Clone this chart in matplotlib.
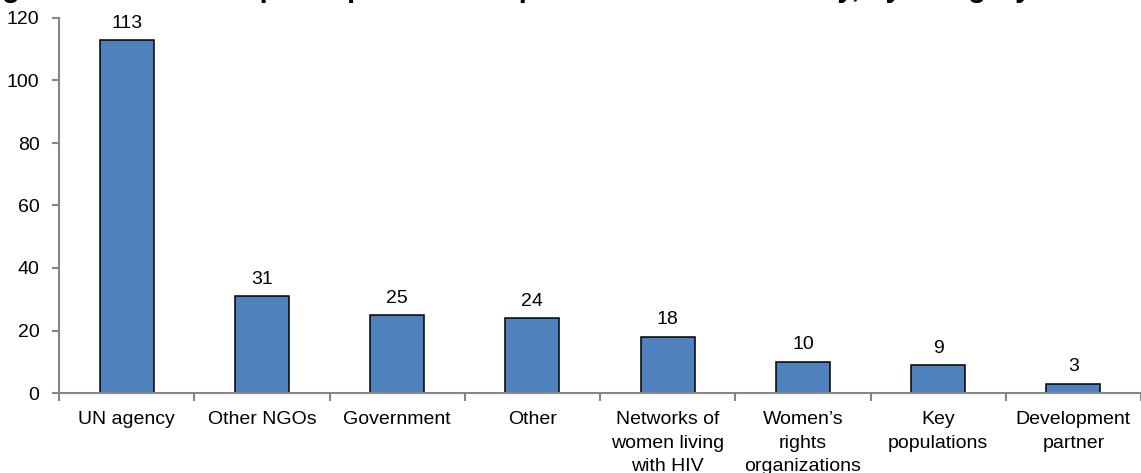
import matplotlib
matplotlib.use("Agg")
import matplotlib.pyplot as plt
from matplotlib.ticker import FixedLocator

plt.rcParams['font.family'] = ['Liberation Sans', 'DejaVu Sans']

categories = ["UN agency", "Other NGOs", "Government", "Other",
              "Networks of\nwomen living\nwith HIV", "Women\u2019s\nrights\norganizations",
              "Key\npopulations", "Development\npartner"]
counts = [113, 31, 25, 24, 18, 10, 9, 3]
y_ticks = [0, 20, 40, 60, 80, 100, 120]
title = "Figure 3. Number of participants in the process in each country, by category"

W, H = 1141, 473
fig = plt.figure(figsize=(W / 100, H / 100), dpi=100)
ax = fig.add_axes([59 / W, 80 / H, (W - 59) / W, (393 - 18) / H])

bar_color = "#4F81BD"
axis_color = "#868686"
x = list(range(len(categories)))
ax.bar(x, counts, width=0.4, color=bar_color, edgecolor="black", linewidth=1.1, zorder=3)

for xi, v in zip(x, counts):
    ax.annotate(str(v), (xi, v), xytext=(0, 6), textcoords="offset points",
                ha="center", va="bottom", fontsize=14)

ax.set_xlim(-0.5, len(categories) - 0.5)
ax.set_ylim(0, 120)
ax.set_yticks(y_ticks)
ax.set_xticks(x)
ax.set_xticklabels(categories, fontsize=14, linespacing=1.5)
ax.xaxis.set_minor_locator(FixedLocator([i - 0.5 for i in range(len(categories) + 1)]))
ax.tick_params(axis="x", which="major", length=0, pad=13)
ax.tick_params(axis="x", which="minor", length=6, width=1.5, color=axis_color, direction="out")
ax.tick_params(axis="y", length=5, width=1.5, color=axis_color, pad=9, labelsize=14)

for side in ("top", "right"):
    ax.spines[side].set_visible(False)
for side in ("left", "bottom"):
    ax.spines[side].set_color(axis_color)
    ax.spines[side].set_linewidth(1.5)
ax.spines["bottom"].set_zorder(4)

# Heading sits above the top edge, only its descenders reach into the canvas
fig.text(-24 / W, 1 + 3 / H, title, ha="left", va="baseline",
         fontsize=21, fontweight="bold")

fig.savefig("out.png", dpi=100)
